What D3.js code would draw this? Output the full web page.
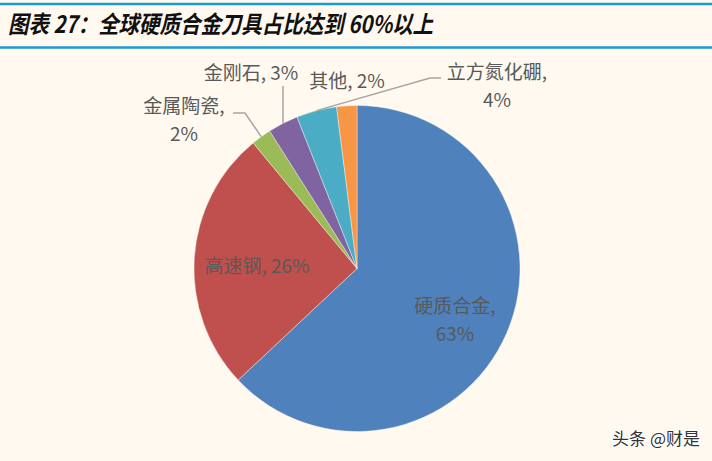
<!DOCTYPE html>
<html><head><meta charset="utf-8">
<script src="https://cdn.jsdelivr.net/npm/d3@7"></script>
<style>
html,body{margin:0;padding:0;background:#FFF9EF;}
svg{display:block;}
</style></head>
<body>
<svg id="c" width="712" height="461"></svg>
<script>
// ---- data ----
const categories = ["硬质合金", "高速钢", "金属陶瓷", "金刚石", "立方氮化硼", "其他"];
const values = [63, 26, 2, 3, 4, 2];
const valueLabels = ["63%", "26%", "2%", "3%", "4%", "2%"];
const colors = ["#4F81BD", "#C0504D", "#9BBB59", "#8064A2", "#4BACC6", "#F79646"];
const title = "图表 27：全球硬质合金刀具占比达到 60%以上";

// ---- layout (not data) ----
const W = 712, H = 461;
const cx = 357, cy = 268.5, R = 163;
const labelLayout = [
  {x: 455, y: 306, two: true},
  {x: 257, y: 266, two: false},
  {x: 184, y: 106, two: true},
  {x: 251, y: 73, two: false},
  {x: 497, y: 72, two: true},
  {x: 347, y: 81, two: false}
];
const leaders = {
  2: [[233, 113], [245, 113]],
  3: [[283, 86]],
  4: [[441, 78], [430, 78]]
};

const svg = d3.select("#c");
svg.append("rect").attr("width", W).attr("height", H).attr("fill", "#FFF9EF");

svg.append("line").attr("x1", 0).attr("x2", W).attr("y1", 4).attr("y2", 4)
  .attr("stroke", "#1A9AD9").attr("stroke-width", 2.5);
svg.append("line").attr("x1", 0).attr("x2", W).attr("y1", 47.5).attr("y2", 47.5)
  .attr("stroke", "#1A9AD9").attr("stroke-width", 2.5);
svg.append("text").attr("x", 8).attr("y", 33)
  .attr("font-family", "'Noto Sans CJK SC', sans-serif")
  .attr("font-size", 24).attr("font-weight", "bold").attr("font-style", "italic")
  .attr("fill", "#111").attr("textLength", 425).attr("lengthAdjust", "spacingAndGlyphs")
  .text(title);

// pie
const pie = d3.pie().sort(null).value(d => d)
  .startAngle(0).endAngle(2 * Math.PI);
const arcs = pie(values);
const arc = d3.arc().innerRadius(0).outerRadius(R);
const g = svg.append("g").attr("transform", `translate(${cx},${cy})`);
g.selectAll("path").data(arcs).join("path")
  .attr("d", arc)
  .attr("fill", (d, i) => colors[i])
  .attr("stroke", "#FFF9EF").attr("stroke-width", 0.4);

// leader lines
Object.entries(leaders).forEach(([k, pts]) => {
  const a = arcs[+k];
  const mid = (a.startAngle + a.endAngle) / 2;
  const ex = cx + R * Math.sin(mid), ey = cy - R * Math.cos(mid);
  svg.append("path")
    .attr("d", d3.line()(pts.concat([[ex, ey]])))
    .attr("fill", "none").attr("stroke", "#A6A6A6").attr("stroke-width", 1.5);
});

// labels
const lab = svg.append("g")
  .attr("font-family", "'Noto Sans CJK SC', 'Noto Sans', sans-serif")
  .attr("font-size", 19).attr("fill", "#595959").attr("text-anchor", "middle");
categories.forEach((c, i) => {
  const L = labelLayout[i];
  const t = lab.append("text").attr("x", L.x).attr("y", L.y).attr("dy", "0.35em");
  if (L.two) {
    t.append("tspan").attr("x", L.x).text(c + ",");
    t.append("tspan").attr("x", L.x).attr("dy", 28).text(valueLabels[i]);
  } else {
    t.text(c + ", " + valueLabels[i]);
  }
});

// watermark
svg.append("text").attr("x", 700).attr("y", 445).attr("text-anchor", "end")
  .attr("font-family", "'Noto Sans CJK SC', sans-serif").attr("font-size", 17)
  .attr("fill", "#333").attr("stroke", "#fff").attr("stroke-width", 2.5)
  .attr("paint-order", "stroke").text("头条 @财是");
</script>
</body></html>
